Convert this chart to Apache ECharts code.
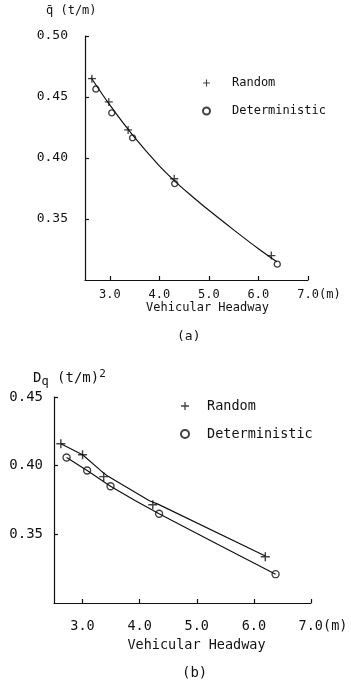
<!DOCTYPE html>
<html>
<head>
<meta charset="utf-8">
<script src="https://cdn.jsdelivr.net/npm/echarts@6/dist/echarts.min.js"></script>
<style>
html,body{margin:0;padding:0;background:#fff;}
#c{width:351px;height:683px;}
</style>
</head>
<body>
<div id="c"></div>
<script>
// ---- data ----
var xTicks = [3, 4, 5, 6, 7];
var yTicksA = [0.35, 0.40, 0.45, 0.50];
var yTicksB = [0.35, 0.40, 0.45];

// (a) mean flow q
var randomA = [[2.64, 0.465], [2.98, 0.446], [3.37, 0.423], [4.30, 0.383], [6.26, 0.320]];
var determA = [[2.72, 0.4565], [3.04, 0.437], [3.46, 0.4165], [4.31, 0.379], [6.38, 0.313]];
var fitA = [[2.62, 0.466], [3.0, 0.4435], [3.45, 0.4194], [4.0, 0.3935], [4.3, 0.3815], [4.6, 0.3707], [5.0, 0.3571], [5.5, 0.3411], [6.0, 0.3256], [6.37, 0.3149]];

// (b) variance Dq
var randomB = [[2.62, 0.416], [3.0, 0.408], [3.37, 0.392], [4.23, 0.3716], [6.20, 0.3337]];
var determB = [[2.72, 0.406], [3.08, 0.3965], [3.49, 0.385], [4.34, 0.365], [6.38, 0.321]];
var fitRandomB = [[2.62, 0.416], [3.0, 0.408], [3.33, 0.396], [3.44, 0.3924], [4.17, 0.3745], [4.32, 0.372], [6.2, 0.3342]];
var fitDetermB = [[2.72, 0.406], [3.08, 0.3965], [3.49, 0.385], [4.34, 0.365], [6.38, 0.321]];

var FONT = '"DejaVu Sans Mono", monospace';
var INK = '#111';
var PLUS = 'path://M4.2,0H5.8V4.2H10V5.8H5.8V10H4.2V5.8H0V4.2H4.2Z';

function xAxisCfg(gridIndex, fs, margin, pad, nameGap, namePad) {
  return {
    type: 'value', gridIndex: gridIndex, min: 2.5, max: 7,
    axisLine: {show: true, lineStyle: {color: INK, width: 1.2}},
    axisTick: {show: true, inside: true, length: 4, customValues: xTicks, lineStyle: {color: INK, width: 1.2}},
    axisLabel: {
      customValues: xTicks, margin: margin, color: INK, fontFamily: FONT, fontSize: fs,
      formatter: function (v) { return v === 7 ? '{m|7.0(m)}' : v.toFixed(1); },
      rich: {m: {fontFamily: FONT, fontSize: fs, color: INK, padding: [0, 0, 0, pad]}}
    },
    splitLine: {show: false},
    name: 'Vehicular Headway', nameLocation: 'middle', nameGap: nameGap,
    nameTextStyle: {color: INK, fontFamily: FONT, fontSize: fs, padding: [0, 0, 0, namePad]}
  };
}
function yAxisCfg(gridIndex, min, max, ticks, fs, margin) {
  return {
    type: 'value', gridIndex: gridIndex, min: min, max: max,
    axisLine: {show: true, lineStyle: {color: INK, width: 1.2}},
    axisTick: {show: true, inside: true, length: 4, customValues: ticks, lineStyle: {color: INK, width: 1.2}},
    axisLabel: {customValues: ticks, margin: margin, color: INK, fontFamily: FONT, fontSize: fs,
      formatter: function (v) { return v.toFixed(2); }},
    splitLine: {show: false}
  };
}

var chart = echarts.init(document.getElementById('c'), null, {renderer: 'canvas'});
chart.setOption({
  backgroundColor: '#fff',
  animation: false,
  title: [
    {text: 'q\u0304 (t/m)', left: 46, top: 5, padding: 0,
     textStyle: {fontFamily: FONT, fontSize: 12, fontWeight: 'normal', color: INK}},
    {text: '(a)', left: 177, top: 330, padding: 0,
     textStyle: {fontFamily: FONT, fontSize: 13, fontWeight: 'normal', color: INK}},
    {text: 'D{s|q} (t/m){p|2}', left: 33, top: 368, padding: 0,
     textStyle: {fontFamily: FONT, fontSize: 14, fontWeight: 'normal', color: INK,
       rich: {s: {fontFamily: FONT, fontSize: 12, color: INK, padding: [8, 0, 0, 0]},
              p: {fontFamily: FONT, fontSize: 11, color: INK, padding: [0, 0, 8, 0]}}}},
    {text: '(b)', left: 182, top: 666, padding: 0,
     textStyle: {fontFamily: FONT, fontSize: 14, fontWeight: 'normal', color: INK}}
  ],
  legend: [
    {data: ['Random', 'Deterministic'], orient: 'vertical', left: 202, top: 77, padding: 0,
     itemGap: 16, itemWidth: 7, itemHeight: 7,
     textStyle: {fontFamily: FONT, fontSize: 12, color: INK, padding: [0, 0, 0, 17]}},
    {data: ['Random', 'Deterministic'], orient: 'vertical', left: 180, top: 399, padding: 0,
     itemGap: 14, itemWidth: 8, itemHeight: 8,
     textStyle: {fontFamily: FONT, fontSize: 13.5, color: INK, padding: [0, 0, 0, 13]}}
  ],
  grid: [
    {left: 85, top: 36, width: 223, height: 244},
    {left: 54, top: 397, width: 257, height: 206}
  ],
  xAxis: [xAxisCfg(0, 12, 9, 22, 22, 22), xAxisCfg(1, 13.5, 16, 24, 35, 28)],
  yAxis: [yAxisCfg(0, 0.30, 0.50, yTicksA, 13, 17), yAxisCfg(1, 0.30, 0.45, yTicksB, 14, 11)],
  series: [
    {name: 'fitA', type: 'line', xAxisIndex: 0, yAxisIndex: 0, data: fitA, smooth: 0.3,
     symbol: 'none', lineStyle: {color: INK, width: 1.2}, silent: true},
    {name: 'Random', type: 'scatter', xAxisIndex: 0, yAxisIndex: 0, data: randomA,
     symbol: PLUS, symbolSize: 8, itemStyle: {color: INK}},
    {name: 'Deterministic', type: 'scatter', xAxisIndex: 0, yAxisIndex: 0, data: determA,
     symbol: 'circle', symbolSize: 6, itemStyle: {color: '#fff', borderColor: INK, borderWidth: 1.4}},

    {name: 'fitRandomB', type: 'line', xAxisIndex: 1, yAxisIndex: 1, data: fitRandomB,
     symbol: 'none', lineStyle: {color: INK, width: 1.2}, silent: true},
    {name: 'fitDetermB', type: 'line', xAxisIndex: 1, yAxisIndex: 1, data: fitDetermB, smooth: 0.2,
     symbol: 'none', lineStyle: {color: INK, width: 1.2}, silent: true},
    {name: 'Random', type: 'scatter', xAxisIndex: 1, yAxisIndex: 1, data: randomB,
     symbol: PLUS, symbolSize: 9, itemStyle: {color: INK}},
    {name: 'Deterministic', type: 'scatter', xAxisIndex: 1, yAxisIndex: 1, data: determB,
     symbol: 'circle', symbolSize: 7, itemStyle: {color: '#fff', borderColor: INK, borderWidth: 1.4}}
  ]
});
</script>
</body>
</html>
